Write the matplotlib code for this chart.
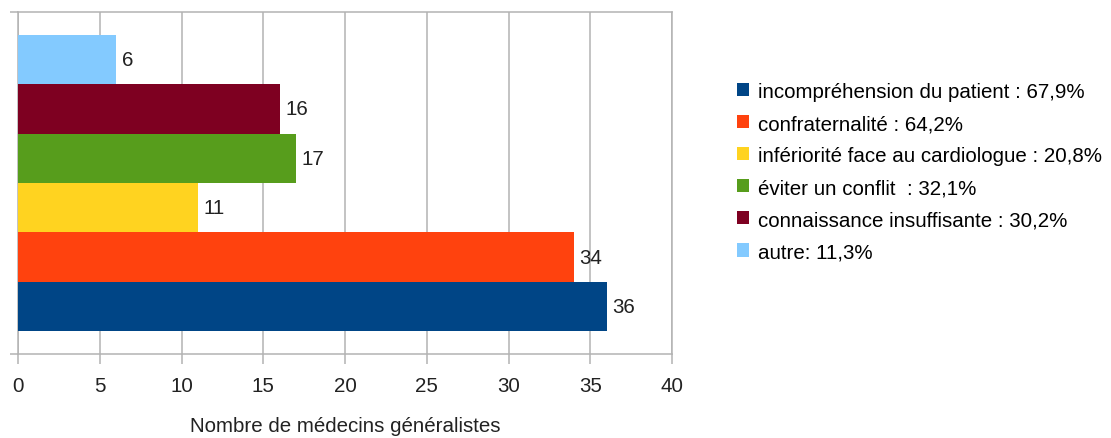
import matplotlib
matplotlib.use('Agg')
import matplotlib.pyplot as plt
from matplotlib.patches import Patch

plt.rcParams['font.family'] = ['Liberation Sans', 'DejaVu Sans']

# bars drawn bottom to top
reasons = ['incompréhension du patient : 67,9%',
           'confraternalité : 64,2%',
           'infériorité face au cardiologue : 20,8%',
           'éviter un conflit  : 32,1%',
           'connaissance insuffisante : 30,2%',
           'autre: 11,3%']
counts = [36, 34, 11, 17, 16, 6]
colors = ['#004586', '#ff420e', '#ffd320', '#579d1c', '#7e0021', '#83caff']
xticks = [0, 5, 10, 15, 20, 25, 30, 35, 40]

grid_col = '#b3b3b3'
fs = 14.8

fig = plt.figure(figsize=(11.11, 4.39), dpi=100)
ax = fig.add_axes([18 / 1111, 84 / 439, 654 / 1111, 342 / 439])

ypos = list(range(len(counts)))
bars = ax.barh(ypos, counts, height=1.0, color=colors, zorder=3)
for y, v in zip(ypos, counts):
    ax.text(v + 0.35, y, str(v), va='center', ha='left', fontsize=fs, color='#222222', zorder=4)

ax.set_xlim(0, 40)
ax.set_ylim(-0.966, 5.966)
ax.set_xticks(xticks)
ax.set_xticklabels([str(t) for t in xticks], fontsize=fs, color='#222222')
ax.set_yticks([-0.966, 5.966])
ax.set_yticklabels([])
ax.tick_params(axis='x', length=7, width=1.1, color=grid_col, pad=9)
ax.tick_params(axis='y', length=6, width=1.1, color=grid_col)
ax.xaxis.grid(True, color=grid_col, linewidth=1.1, zorder=0)
for s in ax.spines.values():
    s.set_color(grid_col)
    s.set_linewidth(1.1)

ax.set_xlabel('Nombre de médecins généralistes', fontsize=fs, color='#222222', labelpad=15)

handles = [Patch(facecolor=c, edgecolor='none') for c in colors]
fig.legend(handles, reasons, loc='upper left', bbox_to_anchor=(737 / 1111, 1 - 83 / 439),
           frameon=False, fontsize=fs, handlelength=0.6, handleheight=0.6,
           handletextpad=0.4, labelspacing=0.635, borderaxespad=0, borderpad=0)

fig.savefig('out.png', dpi=100)
